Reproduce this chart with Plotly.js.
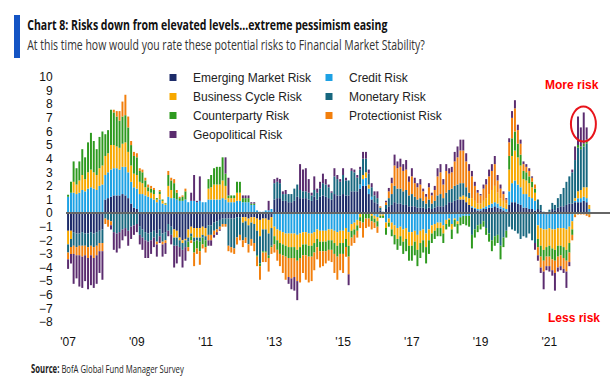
<!DOCTYPE html>
<html>
<head>
<meta charset="utf-8">
<script src="https://cdn.plot.ly/plotly-3.0.1.min.js"></script>
<style>
  html, body { margin: 0; padding: 0; background: #fff; }
  #chart { width: 615px; height: 379px; }
</style>
</head>
<body>
<div id="chart"></div>
<script>
// ---- data (monthly survey net readings, Jan 2007 onward) ----
const startYear = 2007;
const seriesNames = ['Emerging Market Risk', 'Credit Risk', 'Business Cycle Risk', 'Monetary Risk',
                     'Counterparty Risk', 'Protectionist Risk', 'Geopolitical Risk'];

const emergingMarket = [
 -1.3,-1.3,-1.4,-1.5,-1.5,-1.4,-1.5,-1.5,-1.4,-1.5,
 -1.4,-1.3,-1.2,1.0,1.1,1.2,1.3,1.3,1.3,1.4,
 1.3,1.1,0.7,0.4,0.3,-1.0,-1.2,-1.4,-1.5,-1.4,
 -1.3,-1.5,-1.2,-1.5,-1.4,-0.8,-1.0,-1.2,-1.3,-1.8,
 -2.0,-1.9,-1.2,-1.0,-1.1,-1.1,-1.1,-1.0,-1.1,-0.9,
 -0.9,-0.7,-0.6,-0.5,-0.4,-0.4,-0.4,-0.4,-0.4,-0.3,
 -0.3,-0.3,-0.3,-0.4,-0.3,-0.3,-0.4,-0.5,-0.4,-0.4,
 -0.5,-0.3,1.0,1.1,1.1,0.9,0.9,0.8,0.8,0.9,
 1.2,1.1,1.1,1.1,1.0,0.9,1.2,1.0,1.2,1.3,
 1.2,1.1,1.0,1.4,1.3,1.3,1.4,1.3,1.3,1.6,
 1.6,1.6,1.8,2.0,2.0,1.4,1.0,0.8,0.7,0.2,
 0.05,0.3,0.5,0.6,0.8,0.7,0.7,0.6,0.6,0.5,
 0.5,0.5,0.4,0.4,0.4,0.3,0.4,0.3,0.4,0.5,
 0.5,0.5,0.6,0.8,0.8,0.9,1.0,1.0,1.0,0.8,
 0.6,0.4,0.3,0.2,0.2,0.3,0.3,0.4,0.4,0.5,
 0.4,0.3,0.2,0.1,0.6,0.8,0.8,0.7,0.6,0.4,
 0.4,0.3,0.3,0.2,0.3,0.2,0.05,-0.1,0.1,0.3,
 0.2,0.4,0.5,0.5,0.6,0.7,0.7,0.8,0.8,0.8,
 0.9,0.8,0.1];

const credit = [
 1.2,1.5,1.5,1.4,1.5,1.7,1.6,1.8,1.9,1.8,
 1.7,2.0,2.1,1.8,1.9,2.0,2.0,2.0,1.9,2.0,
 2.1,1.9,1.6,1.5,1.5,1.4,1.4,1.3,1.2,1.1,
 1.0,0.8,1.0,0.7,0.6,1.2,1.1,1.1,1.0,0.9,
 0.9,1.0,0.8,0.9,0.9,0.8,0.9,0.8,0.8,1.0,
 1.0,1.0,1.0,1.0,1.1,1.0,0.8,0.8,0.8,0.9,
 0.9,0.8,0.8,0.8,0.6,0.6,0.2,0.1,0.1,0.2,
 0.2,0.3,-1.0,-1.2,-1.3,-1.4,-1.5,-1.5,-1.5,-1.5,
 -1.6,-1.5,-1.4,-1.4,-1.5,-1.5,-1.4,-1.2,-1.3,-1.3,
 -1.3,-1.2,-1.2,-1.3,-1.4,-1.3,-1.3,-1.1,-1.4,-0.8,
 -0.7,-0.5,0.3,0.5,0.6,0.4,0.2,-0.2,-0.3,-0.1,
 -0.1,-0.7,-0.4,-0.7,-0.9,-1.1,-1.0,-1.2,-1.1,-1.4,
 -1.4,-1.3,-1.6,-1.3,-1.2,-1.5,-1.2,-0.9,-0.8,-0.7,
 -0.7,-0.9,-0.5,-0.4,-0.8,-0.4,-0.6,-0.3,-0.2,-0.2,
 -0.2,0.1,0.1,0.1,0.1,0.1,0.2,0.2,0.3,0.3,
 0.3,0.2,0.2,0.2,1.0,1.4,1.6,1.4,1.3,1.0,
 1.0,0.9,0.8,0.7,-0.9,-1.1,-1.2,-1.1,-1.1,-1.2,
 -1.2,-1.1,-1.1,-1.1,-1.2,-1.0,-0.6,0.1,0.3,0.3,
 0.3,0.3,0.2];

const businessCycle = [
 -1.0,-0.6,0.8,0.7,0.9,1.1,0.9,1.2,1.3,1.2,
 1.1,1.3,1.4,1.4,1.4,1.8,1.7,1.6,1.6,1.7,
 1.8,1.5,1.2,1.0,1.0,0.9,0.8,0.6,0.4,0.4,
 0.4,0.2,0.4,0.2,0.1,0.8,0.6,-0.6,-0.5,-0.2,
 -0.2,-0.1,-0.6,-0.5,-0.7,-0.7,-0.7,-0.6,-0.6,0.8,
 0.9,1.1,1.1,1.1,1.3,1.0,0.3,0.3,0.3,0.6,
 0.6,-0.4,-0.3,-0.5,-0.4,-0.5,-0.9,-1.2,-0.8,-0.8,
 -1.0,-0.8,-0.7,-0.8,-0.9,-0.9,-0.9,-1.0,-1.0,-1.0,
 -1.1,-1.0,-0.9,-0.9,-0.9,-0.9,-0.8,-0.7,-0.8,-0.8,
 -0.8,-0.8,-0.8,-0.9,-1.0,-0.9,-0.9,-0.8,-1.0,-0.5,
 -0.5,-0.4,-0.3,0.3,0.4,0.3,-0.2,-0.2,-0.3,-0.1,
 -0.1,-0.4,-0.3,-0.5,-0.7,-0.8,-0.7,-0.9,-0.8,-1.0,
 -1.0,-0.8,-1.1,-0.9,-0.8,-1.0,-0.8,-0.6,-0.5,-0.4,
 -0.4,-0.6,-0.3,-0.1,-0.4,-0.1,-0.2,0.2,0.3,0.4,
 0.5,0.6,0.5,0.4,0.4,0.5,0.6,0.8,1.0,1.2,
 0.8,0.6,0.5,0.4,1.6,2.0,2.2,2.0,1.6,1.1,
 1.0,1.0,0.8,0.6,-1.0,-1.3,-1.5,-1.3,-1.3,-1.4,
 -1.5,-1.3,-1.3,-1.4,-1.5,-1.2,-0.6,0.2,0.5,0.6,
 0.7,0.8,0.3];

const monetary = [
 -0.6,-0.6,-1.0,-1.0,-0.9,-1.0,-0.9,-1.0,-1.0,-1.0,
 -1.0,-0.9,-1.0,-0.4,-0.5,-0.6,-1.4,-1.5,-1.4,-1.2,
 -1.1,-1.3,-1.0,-0.9,-0.8,-0.6,-0.6,-0.6,-0.6,-0.6,
 -0.5,-0.6,-0.5,-0.6,-0.6,-0.5,-0.6,-0.6,-0.6,-0.5,
 -0.5,-0.5,-0.3,-0.2,-0.3,-0.2,-0.3,-0.2,-0.3,-0.7,
 -0.7,-0.6,-0.6,-0.5,-0.4,-0.4,-2.0,-2.1,-2.2,-1.5,
 -1.3,-1.3,-1.2,-1.4,-1.2,-1.4,-1.8,-2.0,-1.6,-1.6,
 -1.6,-1.3,1.2,1.2,1.1,0.5,0.5,0.6,0.6,0.9,
 0.9,0.6,0.5,0.5,0.5,0.4,0.5,0.5,0.6,0.9,
 0.9,0.8,0.5,1.3,1.2,1.0,1.4,1.1,1.1,1.5,
 1.4,1.0,1.1,1.2,1.0,0.8,0.7,0.5,0.4,0.2,
 0.05,0.3,0.6,0.8,1.2,1.1,1.1,1.0,1.1,0.8,
 0.9,0.7,0.6,0.7,0.5,0.4,0.6,0.4,0.5,0.8,
 0.9,0.6,0.9,0.9,1.0,1.1,1.1,1.0,0.9,0.7,
 0.4,-1.6,-1.2,-0.9,-0.8,-0.6,-1.1,-1.5,-2.0,-1.7,
 -1.6,-2.4,-1.8,-1.3,-1.0,-1.2,-1.3,-1.5,-1.9,-1.7,
 -1.8,-1.5,-2.0,-2.2,0.7,0.4,0.05,0.0,0.15,0.45,
 0.4,0.7,0.9,1.35,1.7,2.0,2.3,2.8,3.2,3.0,
 3.0,3.2,0.0];

const counterparty = [
 0.15,0.8,1.5,1.2,1.4,1.9,1.6,2.2,2.7,2.3,
 1.9,2.3,2.5,1.6,1.7,2.6,2.4,2.2,2.0,2.0,
 2.0,1.8,1.5,1.3,1.3,0.8,0.8,0.5,0.3,0.3,
 0.3,0.1,0.2,0.1,0.05,0.8,0.7,1.1,0.5,0.2,
 0.3,0.6,-0.4,-0.3,-0.8,-0.6,-0.7,-0.5,-0.5,0.7,
 0.9,1.2,1.3,1.3,1.7,0.9,0.2,0.2,0.2,0.8,
 0.8,0.3,0.3,0.3,0.1,0.1,-0.1,-0.2,-0.1,-0.1,
 -0.2,-0.1,-0.6,-0.7,-0.8,-0.8,-0.8,-0.8,-0.8,-0.8,
 -0.8,-0.8,-0.8,-0.8,-0.8,-0.8,-0.7,-0.6,-0.7,-0.7,
 -0.7,-0.7,-0.7,-0.8,-0.8,-0.8,-0.8,-0.6,-0.8,-0.5,
 -0.4,-0.4,-0.3,-0.7,-0.4,-0.4,-0.4,-0.3,-0.4,-0.15,
 -0.15,-0.5,-0.3,-0.5,-0.7,-0.8,-0.7,-0.9,-0.9,-1.1,
 -1.1,-1.0,-1.2,-1.1,-0.9,-1.2,-1.0,-0.7,-0.6,-0.6,
 -0.6,-0.7,-0.4,-0.5,-0.7,-0.5,-0.7,-0.6,-0.6,-0.7,
 -0.8,-1.0,-0.6,-0.5,-0.4,-0.4,-0.5,-0.6,-0.8,-0.7,
 -0.6,-1.0,-0.7,-0.5,1.0,1.3,1.4,1.0,0.8,0.6,
 0.6,0.5,0.4,0.3,-0.6,-0.8,-0.8,-0.7,-0.8,-0.8,
 -0.8,-0.8,-0.7,-0.8,-0.8,-0.7,-0.4,-0.1,0.2,0.2,
 0.2,0.3,-0.1];

const protectionist = [
 -0.5,-0.5,-0.6,-0.6,-0.7,-0.8,-0.7,-0.8,-0.7,-0.8,
 -0.7,-0.6,-0.6,-0.4,-0.5,-0.3,0.2,0.4,0.7,1.1,
 1.5,0.8,0.3,0.3,0.3,0.2,0.2,0.2,0.2,0.2,
 0.15,-0.2,0.1,-0.2,-0.2,0.3,0.2,0.3,0.2,0.1,
 0.1,0.2,-0.3,-0.2,-1.0,-0.4,-1.0,-0.3,-0.4,-0.4,
 -0.4,-0.3,-0.2,-0.2,-0.2,-0.2,-0.4,-0.4,-0.4,-0.5,
 -0.4,-0.5,-0.4,-0.6,-0.5,-0.6,-0.7,-1.0,-0.7,-0.7,
 -1.0,-0.5,-0.6,-0.8,-0.9,-1.3,-1.7,-1.4,-1.5,-1.4,
 -1.5,-1.8,-1.3,-1.8,-1.9,-1.8,-1.3,-0.9,-1.2,-1.1,
 -0.9,-0.8,-0.9,-1.4,-1.7,-1.2,-1.4,-0.7,-1.3,-0.6,
 -0.6,-0.5,-0.5,-1.1,-0.7,-0.6,-0.6,-0.4,-0.45,0.1,
 0,0.2,0.5,0.8,1.5,1.5,1.6,1.5,1.5,1.0,
 1.3,1.0,0.9,1.0,0.7,0.5,0.9,0.6,0.8,1.4,
 1.6,1.0,1.6,1.2,1.2,1.8,2.0,2.4,2.4,1.9,
 1.6,1.6,1.1,0.8,0.6,0.9,1.0,1.3,1.4,1.6,
 0.9,0.7,0.5,0.3,1.0,1.5,1.7,1.0,0.8,0.5,
 0.4,0.4,0.3,0.3,-0.6,-0.8,-0.8,-0.7,-0.7,-0.8,
 -0.9,-0.8,-0.8,-0.8,-0.8,-0.7,-0.4,-0.2,-0.1,-0.1,
 -0.1,-0.2,-0.2];

const geopolitical = [
 -0.7,-0.7,-2.2,-1.7,-2.3,-2.3,-1.9,-2.3,-2.2,-2.2,
 -2.1,-1.6,-2.1,0,0,-0.3,-1.3,-1.4,-1.2,-0.8,
 -0.6,-1.1,-0.9,-0.7,-0.6,-0.7,-0.9,-1.3,-1.2,-1.0,
 -0.7,-0.9,-0.5,-0.9,-0.8,-0.4,-0.7,-1.6,-1.3,-0.7,
 -1.3,-1.0,0,0.6,1.9,0.1,1.8,0,0,-0.4,
 -0.4,-0.2,-0.2,-0.1,0,1.2,1.3,0,0,0,
 0,0.2,0.2,0.2,0.1,0.1,0,0,0,0,
 0.7,0,0.3,0.3,0.3,0.2,0.3,-0.5,-0.8,-1.0,
 -1.4,1.9,1.6,1.7,1.0,0.2,1.0,0.3,0.5,0.7,
 0.4,0.2,0.1,0.6,0.3,0.2,0.5,0.2,-0.8,0.2,
 0.2,0.2,0.2,0.5,0.5,0.3,0.3,0.3,0.5,0,
 0,0.1,0.25,0.4,0.8,0.5,0.6,0.5,0.7,0.4,
 0.6,0.4,0.3,0.4,0.2,0.2,0.3,0.2,0.3,0.6,
 0.6,0.4,0.5,0.4,0.4,0.7,0.8,0.8,0.8,0.6,
 0.5,0.4,0.3,0.2,0.1,0.3,0.4,0.5,0.5,0.6,
 0.4,0.3,0.2,0.1,0.3,0.5,0.6,0.4,0.3,0.2,
 0.2,0.2,0.1,-0.5,-0.4,-0.4,-1.3,-0.3,-0.4,-0.4,
 -1.3,-0.3,-0.3,-0.3,-1.2,-0.3,0.2,1.0,2.1,1.4,
 2.3,0.9,0.0];

const tickYears = ['2007', '2009', '2011', '2013', '2015', '2017', '2019', '2021'];
const tickLabels = ["'07", "'09", "'11", "'13", "'15", "'17", "'19", "'21"];

// ---- categories: one month per value ----
const months = [];
for (let k = 0; k < emergingMarket.length; k++) {
  const yr = startYear + Math.floor(k / 12);
  const mo = (k % 12) + 1;
  months.push(yr + '-' + String(mo).padStart(2, '0'));
}

// ---- styles ----
const colors = ['#1C2B69', '#1DA1E4', '#F7A800', '#17677F', '#2E9A1F', '#F27F0C', '#5B2C6F'];
const legendOf = ['legend', 'legend2', 'legend', 'legend2', 'legend', 'legend2', 'legend'];
const seriesValues = [emergingMarket, credit, businessCycle, monetary, counterparty, protectionist, geopolitical];

const FONT = 'Liberation Sans, Arial, Helvetica, sans-serif';
const HEAD = '"Open Sans", "Noto Sans", sans-serif';

const traces = [];
seriesValues.forEach((vals, s) => {
  traces.push({
    type: 'bar', x: months, y: vals, name: seriesNames[s],
    marker: { color: colors[s], line: { width: 0 } },
    showlegend: false, hoverinfo: 'skip'
  });
});
seriesValues.forEach((vals, s) => {
  traces.push({
    type: 'scatter', mode: 'markers', x: [null], y: [null], name: seriesNames[s],
    marker: { symbol: 'square', size: 7, color: colors[s] },
    legend: legendOf[s], showlegend: true, hoverinfo: 'skip'
  });
});

// plot area: left 66, right 610, top 73, bottom 326
const L = 66, R = 610, T = 73, B = 326;
const px = v => (v - L) / (R - L);
const py = v => (B - v) / (B - T);

const layout = {
  width: 615, height: 379,
  margin: { l: L, r: 615 - R, t: T, b: 379 - B, pad: 0 },
  paper_bgcolor: '#ffffff', plot_bgcolor: '#ffffff',
  barmode: 'relative', bargap: 0.25,
  font: { family: FONT, size: 12, color: '#111' },
  xaxis: {
    type: 'date', range: ['2006-12-10', '2022-10-07'],
    tickmode: 'array', tickvals: tickYears.map(y => y + '-01-01'), ticktext: tickLabels,
    ticks: 'outside', ticklen: 5, tickcolor: 'rgba(0,0,0,0)',
    showgrid: false, zeroline: false, showline: false, automargin: false,
    tickfont: { family: FONT, size: 12, color: '#111' }, fixedrange: true
  },
  yaxis: {
    range: [-8.3, 10.3], tickmode: 'linear', tick0: 0, dtick: 1,
    ticks: 'outside', ticklen: 10, tickcolor: 'rgba(0,0,0,0)',
    showgrid: false, zeroline: false, showline: false, automargin: false,
    tickfont: { family: FONT, size: 12, color: '#111' }, fixedrange: true
  },
  legend: {
    x: px(153), y: py(63), xanchor: 'left', yanchor: 'top', orientation: 'v',
    bgcolor: 'rgba(0,0,0,0)', borderwidth: 0, itemclick: false,
    font: { family: FONT, size: 12, color: '#222' }, tracegroupgap: 0
  },
  legend2: {
    x: px(309), y: py(63), xanchor: 'left', yanchor: 'top', orientation: 'v',
    bgcolor: 'rgba(0,0,0,0)', borderwidth: 0, itemclick: false,
    font: { family: FONT, size: 12, color: '#222' }, tracegroupgap: 0
  },
  shapes: [
    { type: 'rect', xref: 'paper', yref: 'paper', x0: px(14), x1: px(20), y0: py(58), y1: py(15),
      fillcolor: '#1454C4', line: { width: 0 } },
    { type: 'line', xref: 'paper', yref: 'y', x0: 0, x1: 1, y0: 0, y1: 0,
      line: { color: '#666666', width: 2 }, layer: 'above' },
    { type: 'circle', xref: 'x', yref: 'y', x0: '2021-08-18', x1: '2022-05-10', y0: 5.26, y1: 7.83,
      line: { color: '#E8141B', width: 2 }, layer: 'above' }
  ],
  annotations: [
    { xref: 'paper', yref: 'paper', x: px(25), y: py(24), xanchor: 'left', yanchor: 'middle',
      text: '<b>Chart 8: Risks down from elevated levels...extreme pessimism easing</b>', showarrow: false,
      font: { family: HEAD, size: 15, color: '#111' } },
    { xref: 'paper', yref: 'paper', x: px(25), y: py(45), xanchor: 'left', yanchor: 'middle',
      text: 'At this time how would you rate these potential risks to Financial Market Stability?', showarrow: false,
      font: { family: HEAD, size: 14, color: '#333' } },
    { xref: 'paper', yref: 'paper', x: px(29), y: py(368), xanchor: 'left', yanchor: 'middle',
      text: '<b>Source:</b> BofA Global Fund Manager Survey', showarrow: false,
      font: { family: HEAD, size: 11.5, color: '#222' } },
    { xref: 'paper', yref: 'paper', x: px(543), y: py(85), xanchor: 'left', yanchor: 'middle',
      text: '<b>More risk</b>', showarrow: false, font: { family: FONT, size: 12, color: '#FF0000' } },
    { xref: 'paper', yref: 'paper', x: px(546), y: py(318), xanchor: 'left', yanchor: 'middle',
      text: '<b>Less risk</b>', showarrow: false, font: { family: FONT, size: 12, color: '#FF0000' } }
  ]
};

// target rendered widths of the condensed heading texts (title, subtitle, source)
const condensedWidths = [361, 398, 153];

Plotly.newPlot('chart', traces, layout, { displayModeBar: false, staticPlot: true }).then(gd => {
  const texts = gd.querySelectorAll('.annotation-text');
  condensedWidths.forEach((w, k) => {
    const t = texts[k];
    if (!t) return;
    const bb = t.getBBox();
    if (!bb.width) return;
    const s = Math.min(1, w / bb.width);
    t.setAttribute('transform', `translate(${bb.x},0) scale(${s},1) translate(${-bb.x},0)`);
  });
});
</script>
</body>
</html>
